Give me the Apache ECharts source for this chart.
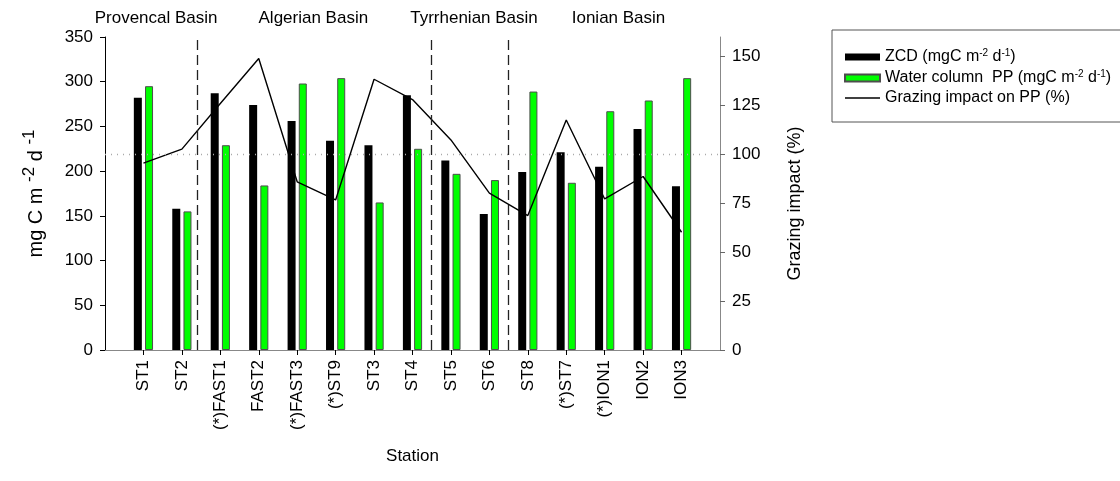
<!DOCTYPE html>
<html><head><meta charset="utf-8">
<script src="https://cdn.jsdelivr.net/npm/echarts@6/dist/echarts.min.js"></script>
<style>html,body{margin:0;padding:0;background:#fff}#c{width:1120px;height:481px}</style>
</head><body><div id="c"></div>
<script>
// ---- data ----
const stations = ['ST1','ST2','(*)FAST1','FAST2','(*)FAST3','(*)ST9','ST3','ST4','ST5','ST6','ST8','(*)ST7','(*)ION1','ION2','ION3'];
const zcd      = [282,158,287,274,256,234,229,285,212,152,199,221,205,247,183];
const waterPP  = [295,155,229,184,298,304,165,225,197,190,289,187,267,279,304];
const grazing  = [95.5,102.7,126,149,86,76.7,138.4,128,107.4,80.2,68.7,117.6,77.2,88.7,60.2];
const leftMin = 0, leftMax = 350, leftStep = 50;
const rightTicks = [0,25,50,75,100,125,150];
const rightMax = 160;
const referenceGrazing = 100;
const basinBreaks = [1.4, 7.5, 9.5];          // between-station positions (station index)
const basinNames = ['Provencal Basin','Algerian Basin','Tyrrhenian Basin','Ionian Basin'];
const basinCenters = [0.33, 4.42, 8.6, 12.36]; // station index of label centre
const seriesNames = ['ZCD','Water column  PP','Grazing impact on PP (%)'];
const legendLabels = {
  'ZCD': 'ZCD (mgC m{s|-2} d{s|-1})',
  'Water column  PP': 'Water column  PP (mgC m{s|-2} d{s|-1})',
  'Grazing impact on PP (%)': 'Grazing impact on PP (%)'
};

const FONT = '"Liberation Sans", Arial, sans-serif';
const pad = a => [null, ...a, null];
const cats = ['', ...stations, ''];

const chart = echarts.init(document.getElementById('c'), null, {renderer:'canvas'});
const option = {
  animation: false,
  backgroundColor: '#fff',
  textStyle: {fontFamily: FONT},
  grid: {left: 105, right: 400, top: 37, bottom: 131, containLabel: false},
  legend: {
    left: 832, top: 30, orient: 'vertical',
    itemWidth: 35, itemHeight: 7, itemGap: 4,
    padding: [18, 40, 16, 12],
    borderColor: '#555', borderWidth: 1,
    data: [
      {name: seriesNames[0], icon: 'rect'},
      {name: seriesNames[1], icon: 'rect'},
      {name: seriesNames[2], itemStyle: {color: 'rgba(0,0,0,0)', borderColor: 'rgba(0,0,0,0)', borderWidth: 0},
       lineStyle: {color: '#000', width: 1.4}}
    ],
    formatter: n => legendLabels[n],
    textStyle: {fontFamily: FONT, fontSize: 16, color: '#000', lineHeight: 16,
      rich: {s: {fontSize: 10, fontFamily: FONT, padding: [0,0,8,0]}}}
  },
  xAxis: [{
    type: 'category', data: cats, boundaryGap: false, position: 'bottom',
    axisLine: {lineStyle: {color: '#000', width: 1}},
    axisTick: {length: 5, interval: (i, v) => v !== '', lineStyle: {color: '#000'}},
    axisLabel: {rotate: 90, interval: 0, margin: 10, fontSize: 17, color: '#000', fontFamily: FONT},
    name: 'Station', nameLocation: 'middle', nameGap: 98,
    nameTextStyle: {fontSize: 17, color: '#000', fontFamily: FONT},
    splitLine: {show: false}
  }, {
    type: 'value', min: 0, max: cats.length - 1, position: 'top',
    axisLine: {show: true, lineStyle: {color: '#888', width: 1}},
    axisTick: {show: false}, axisLabel: {show: false}, splitLine: {show: false}
  }],
  yAxis: [{
    type: 'value', min: leftMin, max: leftMax, interval: leftStep, position: 'left',
    axisLine: {show: true, lineStyle: {color: '#000'}},
    axisTick: {show: true, length: 5, lineStyle: {color: '#000'}},
    axisLabel: {margin: 12, fontSize: 17, color: '#000', fontFamily: FONT},
    splitLine: {show: false},
    name: 'mg C m {s|-2} d {s|-1}', nameLocation: 'middle', nameGap: 53, nameRotate: 90,
    nameTextStyle: {fontSize: 20, color: '#000', fontFamily: FONT,
      rich: {s: {fontSize: 17, fontFamily: FONT, padding: [0,0,14,0]}}}
  }, {
    type: 'value', min: 0, max: rightMax, position: 'right',
    axisLine: {show: true, lineStyle: {color: '#888'}},
    axisTick: {show: true, length: 5, customValues: rightTicks, lineStyle: {color: '#666'}},
    axisLabel: {customValues: rightTicks, margin: 12, fontSize: 17, color: '#000', fontFamily: FONT},
    splitLine: {show: false},
    name: 'Grazing impact (%)', nameLocation: 'middle', nameGap: 66, nameRotate: 90,
    nameTextStyle: {fontSize: 18, color: '#000', fontFamily: FONT, padding: [0, 20, 0, 0]}
  }],
  series: [{
    name: seriesNames[0], type: 'bar', data: pad(zcd), barWidth: 8, barGap: '40%',
    itemStyle: {color: '#000'}
  }, {
    name: seriesNames[1], type: 'bar', data: pad(waterPP), barWidth: 8,
    itemStyle: {color: '#00ff00', borderColor: '#4d4d4d', borderWidth: 1}
  }, {
    name: seriesNames[2], type: 'line', yAxisIndex: 1, data: pad(grazing),
    symbol: 'none', connectNulls: false,
    lineStyle: {color: '#000', width: 1.4}, itemStyle: {color: '#000'},
    markLine: {silent: true, symbol: 'none', label: {show: false},
      lineStyle: {color: '#aaa', type: [1, 5], width: 1.3},
      data: [{yAxis: referenceGrazing}]}
  }, {
    name: 'breaks', type: 'line', xAxisIndex: 1, yAxisIndex: 0, data: [],
    markLine: {silent: true, symbol: 'none', label: {show: false},
      lineStyle: {color: '#222', type: [10, 5], width: 1.3},
      data: basinBreaks.map(b => ({xAxis: b + 1}))}
  }]
};
chart.setOption(option);
const texts = basinNames.map((t, i) => ({
  type: 'text',
  x: chart.convertToPixel({xAxisIndex: 1}, basinCenters[i] + 1),
  y: 18,
  style: {text: t, fontSize: 17, fontFamily: FONT, fill: '#000', align: 'center', verticalAlign: 'middle'}
}));
chart.setOption({graphic: texts});
</script>
</body></html>
